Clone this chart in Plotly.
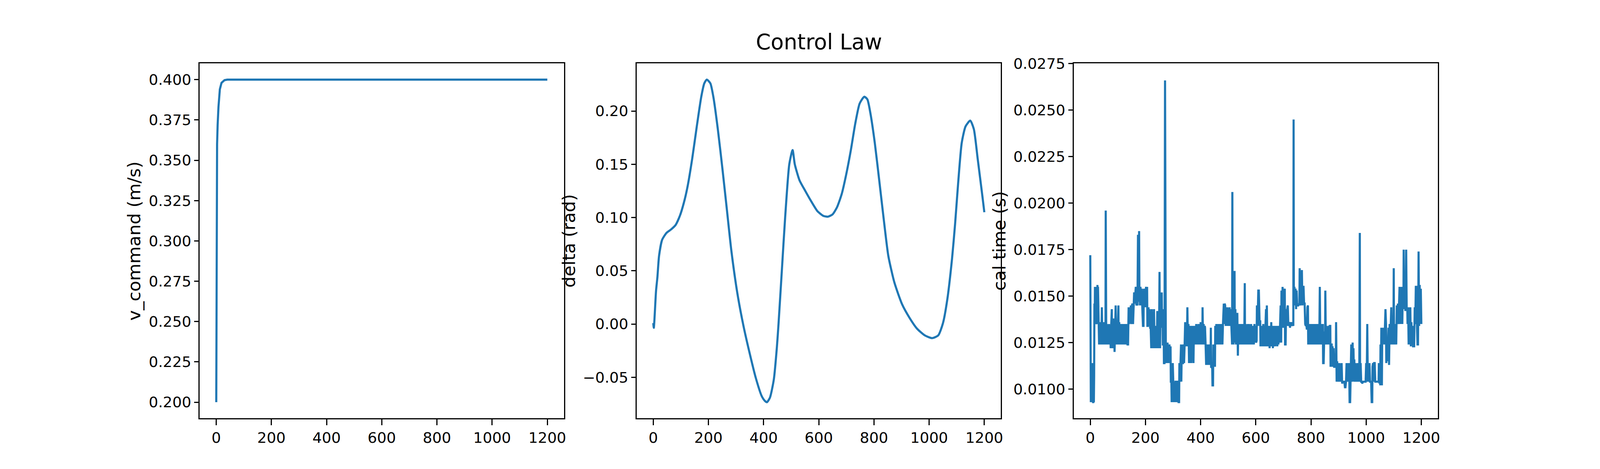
import plotly.graph_objects as go
from plotly.subplots import make_subplots

# ---- data ----
# left panel: speed command
v_step = [0, 1, 3, 5, 8, 13, 19, 30, 40, 1200]
v_command = [0.200, 0.345, 0.360, 0.372, 0.383, 0.394, 0.398, 0.3997, 0.400, 0.400]

# middle panel: steering angle
delta_step = [0, 2, 10, 15, 21, 32, 48, 65, 81, 97,
              114, 125, 141, 158, 174, 185, 194, 207, 218, 234,
              251, 267, 283, 305, 327, 349, 371, 393, 404, 412,
              423, 437, 448, 454, 466, 478, 493, 505, 513, 530,
              551, 573, 595, 617, 633, 650, 666, 683, 699, 716,
              732, 748, 765, 776, 787, 803, 819, 836, 852, 874,
              902, 929, 956, 984, 1011, 1033, 1050, 1066, 1083, 1094,
              1105, 1118, 1132, 1149, 1162, 1176, 1193, 1200]
delta = [0.001, -0.0035, 0.031, 0.044, 0.064, 0.079, 0.0856, 0.0889, 0.093, 0.102,
         0.117, 0.130, 0.155, 0.186, 0.2134, 0.226, 0.2295, 0.226, 0.213, 0.183,
         0.145, 0.107, 0.069, 0.0286, -0.0018, -0.027, -0.050, -0.0676, -0.072, -0.0734,
         -0.069, -0.052, -0.022, 0.0, 0.05, 0.10, 0.15, 0.1633, 0.150, 0.135,
         0.125, 0.115, 0.106, 0.1015, 0.1008, 0.103, 0.1096, 0.122, 0.140, 0.163,
         0.188, 0.207, 0.2134, 0.211, 0.198, 0.170, 0.135, 0.097, 0.064, 0.039,
         0.0185, 0.0058, -0.0043, -0.0106, -0.0132, -0.0106, 0.0008, 0.0235, 0.0615, 0.094,
         0.132, 0.170, 0.1856, 0.191, 0.183, 0.155, 0.120, 0.105]

# right panel: computation time per step
cal_step = [
    0, 1, 2, 3, 4, 5, 6, 7, 8, 9,
    10, 11, 12, 13, 14, 15, 16, 17, 18, 19,
    20, 22, 24, 26, 27, 28, 30, 32, 34, 36,
    38, 40, 42, 44, 46, 48, 50, 52, 54, 55,
    56, 57, 58, 60, 62, 64, 66, 68, 70, 72,
    74, 76, 78, 79, 81, 83, 84, 86, 88, 90,
    92, 94, 96, 98, 100, 102, 103, 105, 107, 109,
    111, 113, 115, 117, 119, 121, 123, 125, 127, 129,
    131, 133, 135, 137, 139, 141, 143, 145, 147, 149,
    151, 153, 155, 157, 159, 161, 163, 165, 167, 169,
    171, 172, 173, 175, 177, 178, 180, 182, 184, 186,
    188, 190, 191, 193, 194, 196, 198, 200, 202, 204,
    206, 207, 209, 211, 213, 215, 217, 219, 221, 223,
    225, 227, 229, 231, 233, 235, 237, 239, 241, 243,
    245, 247, 249, 251, 253, 255, 257, 259, 260, 262,
    263, 265, 266, 267, 269, 271, 273, 274, 276, 278,
    280, 282, 284, 285, 287, 289, 291, 292, 294, 295,
    296, 298, 299, 301, 303, 305, 307, 309, 311, 313,
    315, 317, 319, 320, 322, 323, 325, 327, 329, 330,
    332, 334, 336, 338, 340, 342, 344, 346, 348, 350,
    352, 354, 356, 358, 360, 362, 364, 366, 368, 370,
    372, 374, 376, 378, 380, 382, 384, 386, 388, 390,
    392, 394, 396, 398, 400, 402, 404, 406, 407, 409,
    411, 413, 415, 416, 418, 420, 422, 424, 426, 428,
    430, 432, 434, 436, 437, 438, 440, 442, 443, 445,
    446, 448, 450, 452, 453, 455, 457, 459, 461, 463,
    465, 467, 469, 471, 473, 475, 477, 479, 481, 482,
    484, 486, 487, 489, 491, 493, 495, 497, 499, 501,
    503, 505, 507, 509, 511, 513, 514, 515, 516, 518,
    519, 521, 523, 524, 526, 528, 529, 531, 533, 535,
    537, 539, 541, 543, 545, 547, 549, 551, 553, 555,
    557, 558, 560, 561, 563, 565, 567, 569, 571, 573,
    575, 577, 579, 581, 583, 585, 587, 589, 591, 593,
    595, 597, 599, 601, 603, 604, 606, 608, 609, 611,
    612, 614, 616, 617, 619, 621, 623, 625, 627, 629,
    631, 633, 635, 637, 639, 640, 642, 644, 646, 648,
    650, 652, 654, 656, 658, 660, 662, 664, 666, 668,
    670, 672, 674, 676, 678, 680, 682, 684, 686, 688,
    690, 692, 693, 695, 697, 699, 701, 703, 705, 706,
    708, 710, 712, 714, 716, 718, 720, 722, 724, 726,
    728, 730, 732, 734, 736, 737, 738, 740, 742, 744,
    746, 748, 750, 752, 754, 756, 758, 759, 761, 763,
    765, 767, 769, 771, 773, 775, 777, 779, 781, 783,
    785, 787, 789, 790, 792, 794, 796, 798, 800, 802,
    804, 806, 808, 810, 812, 814, 816, 818, 820, 822,
    824, 826, 828, 830, 832, 834, 836, 838, 840, 842,
    843, 844, 846, 848, 850, 851, 852, 854, 856, 858,
    860, 862, 864, 866, 868, 870, 871, 873, 875, 876,
    878, 880, 882, 884, 886, 888, 890, 891, 893, 895,
    897, 899, 901, 903, 905, 907, 909, 911, 913, 915,
    917, 919, 921, 923, 925, 927, 929, 931, 933, 935,
    937, 939, 940, 942, 944, 946, 947, 949, 951, 953,
    954, 956, 957, 959, 961, 963, 965, 967, 969, 971,
    973, 975, 977, 978, 980, 982, 984, 986, 988, 990,
    992, 994, 996, 998, 1000, 1002, 1004, 1006, 1008, 1010,
    1012, 1014, 1016, 1018, 1020, 1022, 1023, 1025, 1027, 1029,
    1031, 1033, 1035, 1037, 1039, 1041, 1043, 1045, 1046, 1048,
    1050, 1051, 1052, 1054, 1055, 1057, 1058, 1060, 1062, 1064,
    1066, 1068, 1070, 1072, 1073, 1075, 1077, 1079, 1081, 1083,
    1085, 1087, 1089, 1091, 1093, 1095, 1097, 1099, 1100, 1101,
    1103, 1105, 1107, 1109, 1111, 1113, 1115, 1117, 1119, 1121,
    1123, 1125, 1127, 1129, 1131, 1133, 1135, 1136, 1138, 1140,
    1142, 1144, 1145, 1147, 1149, 1150, 1152, 1154, 1156, 1158,
    1160, 1162, 1164, 1166, 1168, 1170, 1172, 1174, 1176, 1178,
    1180, 1182, 1184, 1186, 1188, 1190, 1192, 1194, 1196, 1198,
    1200,
]
cal_time = [
    .0172, .0118, .0093, .0114, .0093, .0114, .0093, .0104, .0093, .0114,
    .0093, .0093, .0114, .0093, .0107, .0146, .0135, .0155, .0135, .0155,
    .0135, .0136, .0135, .0156, .0135, .0155, .0135, .0124, .0136, .0124,
    .0135, .0124, .0144, .0124, .0135, .0124, .0136, .0124, .0135, .0124,
    .0196, .0135, .0124, .0135, .0124, .0134, .0124, .0135, .0124, .0134,
    .0122, .0135, .0143, .0122, .0136, .0138, .0122, .0135, .0120, .0135,
    .0145, .0124, .0135, .0124, .0136, .0145, .0124, .0136, .0124, .0135,
    .0124, .0135, .0124, .0135, .0124, .0135, .0124, .0135, .0124, .0135,
    .0124, .0135, .0124, .0124, .0144, .0135, .0144, .0136, .0145, .0135,
    .0145, .0146, .0135, .0146, .0152, .0146, .0152, .0155, .0145, .0146,
    .0145, .0164, .0183, .0147, .0185, .0155, .0145, .0155, .0145, .0154,
    .0145, .0144, .0134, .0134, .0154, .0145, .0154, .0144, .0155, .0145,
    .0155, .0134, .0134, .0144, .0134, .0143, .0133, .0133, .0122, .0143,
    .0122, .0134, .0122, .0143, .0122, .0134, .0122, .0134, .0122, .0142,
    .0122, .0134, .0122, .0163, .0122, .0145, .0133, .0152, .0135, .0143,
    .0124, .0124, .0134, .0114, .0114, .0266, .0125, .0114, .0125, .0114,
    .0125, .0114, .0124, .0114, .0124, .0114, .0123, .0104, .0104, .0093,
    .0114, .0093, .0114, .0104, .0093, .0104, .0093, .0104, .0104, .0093,
    .0104, .0104, .0104, .0093, .0093, .0114, .0104, .0114, .0124, .0104,
    .0124, .0114, .0114, .0124, .0114, .0124, .0136, .0123, .0136, .0123,
    .0144, .0123, .0135, .0114, .0134, .0114, .0134, .0114, .0134, .0124,
    .0134, .0114, .0134, .0124, .0134, .0124, .0135, .0124, .0134, .0124,
    .0135, .0124, .0135, .0124, .0136, .0124, .0135, .0124, .0144, .0124,
    .0135, .0124, .0134, .0133, .0124, .0113, .0124, .0113, .0124, .0113,
    .0124, .0113, .0124, .0113, .0133, .0112, .0112, .0111, .0102, .0102,
    .0124, .0112, .0124, .0112, .0134, .0124, .0135, .0124, .0135, .0124,
    .0135, .0124, .0135, .0124, .0135, .0124, .0135, .0124, .0135, .0144,
    .0146, .0135, .0146, .0145, .0134, .0144, .0134, .0144, .0134, .0143,
    .0134, .0144, .0134, .0143, .0134, .0124, .0124, .0206, .0124, .0134,
    .0124, .0163, .0163, .0125, .0143, .0124, .0140, .0124, .0141, .0118,
    .0135, .0124, .0135, .0124, .0135, .0124, .0135, .0124, .0135, .0124,
    .0135, .0124, .0157, .0124, .0135, .0124, .0134, .0124, .0135, .0124,
    .0135, .0124, .0134, .0124, .0135, .0124, .0134, .0124, .0134, .0124,
    .0135, .0125, .0134, .0125, .0126, .0145, .0134, .0146, .0153, .0153,
    .0140, .0134, .0137, .0123, .0134, .0123, .0134, .0123, .0135, .0123,
    .0134, .0123, .0134, .0143, .0123, .0145, .0123, .0134, .0123, .0134,
    .0122, .0134, .0123, .0136, .0123, .0134, .0122, .0134, .0123, .0134,
    .0123, .0134, .0124, .0134, .0123, .0134, .0124, .0134, .0125, .0134,
    .0145, .0125, .0153, .0133, .0155, .0133, .0154, .0143, .0154, .0124,
    .0124, .0143, .0134, .0143, .0145, .0134, .0135, .0136, .0133, .0136,
    .0134, .0136, .0134, .0135, .0134, .0245, .0145, .0155, .0145, .0154,
    .0143, .0153, .0145, .0145, .0145, .0146, .0145, .0165, .0145, .0150,
    .0146, .0164, .0145, .0155, .0155, .0146, .0146, .0135, .0134, .0135,
    .0132, .0144, .0145, .0124, .0135, .0124, .0135, .0124, .0135, .0124,
    .0135, .0124, .0135, .0124, .0135, .0124, .0135, .0124, .0135, .0124,
    .0135, .0124, .0135, .0124, .0155, .0124, .0135, .0124, .0135, .0124,
    .0135, .0114, .0114, .0128, .0131, .0124, .0153, .0124, .0134, .0124,
    .0133, .0124, .0134, .0124, .0134, .0134, .0112, .0124, .0124, .0112,
    .0123, .0112, .0122, .0112, .0112, .0112, .0112, .0136, .0104, .0115,
    .0104, .0114, .0104, .0114, .0104, .0113, .0104, .0114, .0103, .0104,
    .0104, .0104, .0104, .0101, .0101, .0104, .0114, .0104, .0114, .0104,
    .0114, .0104, .0093, .0093, .0115, .0124, .0104, .0124, .0125, .0104,
    .0122, .0104, .0116, .0104, .0114, .0104, .0113, .0104, .0114, .0104,
    .0114, .0104, .0184, .0104, .0114, .0104, .0104, .0103, .0104, .0104,
    .0104, .0104, .0104, .0104, .0114, .0104, .0135, .0104, .0114, .0104,
    .0114, .0104, .0104, .0104, .0093, .0093, .0112, .0114, .0104, .0114,
    .0114, .0104, .0104, .0104, .0104, .0104, .0104, .0104, .0114, .0103,
    .0114, .0102, .0124, .0114, .0133, .0102, .0124, .0133, .0125, .0132,
    .0124, .0133, .0143, .0135, .0114, .0124, .0115, .0124, .0133, .0113,
    .0135, .0124, .0135, .0144, .0124, .0135, .0124, .0135, .0165, .0124,
    .0135, .0124, .0135, .0124, .0145, .0135, .0146, .0135, .0145, .0155,
    .0135, .0155, .0135, .0155, .0135, .0155, .0143, .0175, .0143, .0155,
    .0142, .0155, .0175, .0142, .0144, .0135, .0144, .0124, .0144, .0124,
    .0144, .0123, .0136, .0124, .0134, .0123, .0123, .0123, .0144, .0135,
    .0155, .0155, .0135, .0124, .0124, .0174, .0134, .0156, .0135, .0154,
    .0135,
]
assert len(cal_step) == len(cal_time), (len(cal_step), len(cal_time))

# tick labels
x_ticks = [0, 200, 400, 600, 800, 1000, 1200]
v_ticks = [0.200, 0.225, 0.250, 0.275, 0.300, 0.325, 0.350, 0.375, 0.400]
delta_ticks = [-0.05, 0.00, 0.05, 0.10, 0.15, 0.20]
cal_ticks = [0.0100, 0.0125, 0.0150, 0.0175, 0.0200, 0.0225, 0.0250, 0.0275]


def fmt(v, d):
    s = f"{v:.{d}f}"
    return s.replace("-", "\u2212")


# the browser viewport is 4096 px wide and 1200 px high: lay the chart out
# over the whole viewport, keeping the reference proportions
W, H = 4096, 1200
SX = W / 5400          # horizontal squeeze
FS = 0.78              # text scale
FONT = "DejaVu Sans"
BLUE = "#1f77b4"
LINE_W = 5.4
AX_W = 2.9

fig = make_subplots(rows=1, cols=3)

fig.add_trace(go.Scatter(x=v_step, y=v_command, mode="lines",
                         line=dict(color=BLUE, width=LINE_W)), row=1, col=1)
fig.add_trace(go.Scatter(x=delta_step, y=delta, mode="lines",
                         line=dict(color=BLUE, width=LINE_W, shape="spline", smoothing=0.6)),
              row=1, col=2)
fig.add_trace(go.Scatter(x=cal_step, y=cal_time, mode="lines",
                         line=dict(color=BLUE, width=LINE_W)), row=1, col=3)

# axes boxes placed like matplotlib's default subplot grid
w = 0.775 / 3.4
doms = [[0.125, 0.125 + w],
        [0.125 + 1.2 * w, 0.125 + 2.2 * w],
        [0.125 + 2.4 * w, 0.9]]

axis_style = dict(showline=True, mirror=True, linecolor="black", linewidth=AX_W,
                  ticks="outside", tickwidth=AX_W, tickcolor="black",
                  showgrid=False, zeroline=False,
                  tickfont=dict(family=FONT, size=50 * 0.76, color="black"))

for i in range(3):
    fig.update_xaxes(domain=doms[i], range=[-60, 1260], tickvals=x_ticks, ticklen=14.6,
                     ticktext=[str(t) for t in x_ticks], row=1, col=i + 1, **axis_style)
    fig.update_yaxes(domain=[0.11, 0.88], ticklen=14.6 * SX, row=1, col=i + 1, **axis_style)

fig.update_yaxes(range=[0.19, 0.41], tickvals=v_ticks,
                 ticktext=[fmt(t, 3) for t in v_ticks], row=1, col=1)
fig.update_yaxes(range=[-0.0885, 0.2446], tickvals=delta_ticks,
                 ticktext=[fmt(t, 2) for t in delta_ticks], row=1, col=2)
fig.update_yaxes(range=[0.00843, 0.02751], tickvals=cal_ticks,
                 ticktext=[fmt(t, 4) for t in cal_ticks], row=1, col=3)

# axis titles and the figure title, placed as text annotations
ylabels = ["v_command (m/s)", "delta (rad)", "cal time (s)"]
ylabel_x = [453, 1923, 3378]
for lab, px in zip(ylabels, ylabel_x):
    fig.add_annotation(text=lab, xref="paper", yref="paper", x=px / 5400, y=0.495,
                       textangle=-90, showarrow=False, xanchor="center", yanchor="middle",
                       font=dict(family=FONT, size=58 * FS, color="black"))

fig.add_annotation(text="Control Law", xref="paper", yref="paper",
                   x=(doms[1][0] + doms[1][1]) / 2, y=1 - 88 / 1200,
                   showarrow=False, xanchor="center", yanchor="middle",
                   font=dict(family=FONT, size=70 * FS, color="black"))

fig.update_layout(width=W, height=H, margin=dict(l=0, r=0, t=0, b=0),
                  paper_bgcolor="white", plot_bgcolor="white", showlegend=False)

fig.write_html("out.html", config={"displayModeBar": False},
               post_script="document.body.style.margin='0';")
